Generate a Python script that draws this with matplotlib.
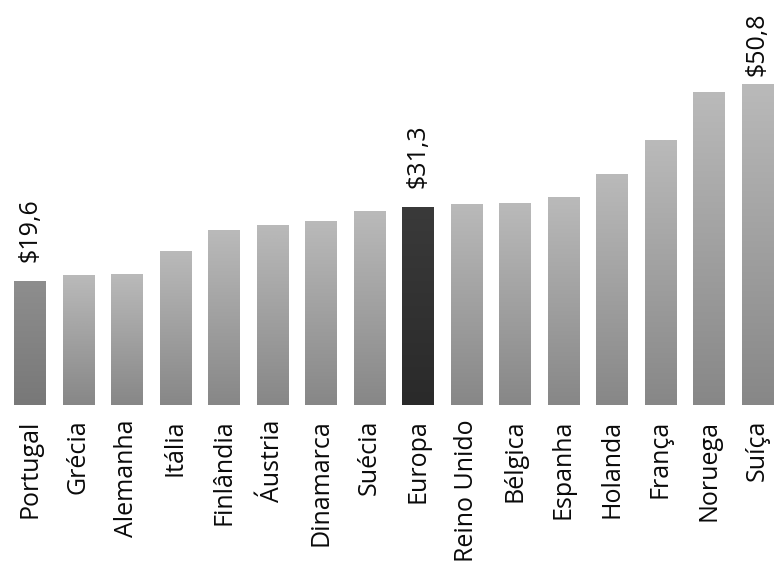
import matplotlib
matplotlib.use("Agg")
import matplotlib.pyplot as plt
import numpy as np
from matplotlib.colors import LinearSegmentedColormap

countries = ["Portugal", "Grécia", "Alemanha", "Itália", "Finlândia", "Áustria",
             "Dinamarca", "Suécia", "Europa", "Reino Unido", "Bélgica", "Espanha",
             "Holanda", "França", "Noruega", "Suíça"]
values = [19.6, 20.5, 20.7, 24.4, 27.6, 28.5, 29.1, 30.6, 31.3, 31.8, 31.9, 32.9,
          36.5, 41.8, 49.5, 50.8]
value_labels = {"Portugal": "$19,6", "Europa": "$31,3", "Suíça": "$50,8"}

plt.rcParams['font.family'] = ['Open Sans', 'DejaVu Sans']

fig = plt.figure(figsize=(7.76, 5.84), dpi=100)
ax = fig.add_axes([0, 0.3065, 1, 0.6935])
ax.set_xlim(-0.619, 15.39)
ax.set_ylim(0, 64)
ax.axis('off')

width = 0.64
grad = np.linspace(0, 1, 256).reshape(-1, 1)
cm_norm = LinearSegmentedColormap.from_list('n', ['#878787', '#bababa'])
cm_pt = LinearSegmentedColormap.from_list('p', ['#787878', '#8e8e8e'])
cm_eu = LinearSegmentedColormap.from_list('e', ['#2a2a2a', '#3a3a3a'])

bars = ax.bar(range(len(countries)), values, width=width, color='none', edgecolor='none')
for i, (c, v, b) in enumerate(zip(countries, values, bars)):
    cmap = cm_eu if c == "Europa" else (cm_pt if c == "Portugal" else cm_norm)
    im = ax.imshow(grad, cmap=cmap, aspect='auto', origin='lower',
                   extent=[i - width / 2, i + width / 2, 0, v], zorder=2)
    im.set_clip_path(b)
    if c in value_labels:
        off = 1.2 if c == "Suíça" else 3.0
        ax.text(i, v + off, value_labels[c], rotation=90, ha='center', va='bottom',
                fontsize=18, color='#0a0a0a', clip_on=False)
    ax.text(i, -2.3, c, rotation=90, ha='center', va='top', fontsize=18,
            color='#0a0a0a', clip_on=False)

ax.set_xlim(-0.619, 15.39)
ax.set_ylim(0, 64)
fig.savefig("out.png", dpi=100, facecolor='white')
